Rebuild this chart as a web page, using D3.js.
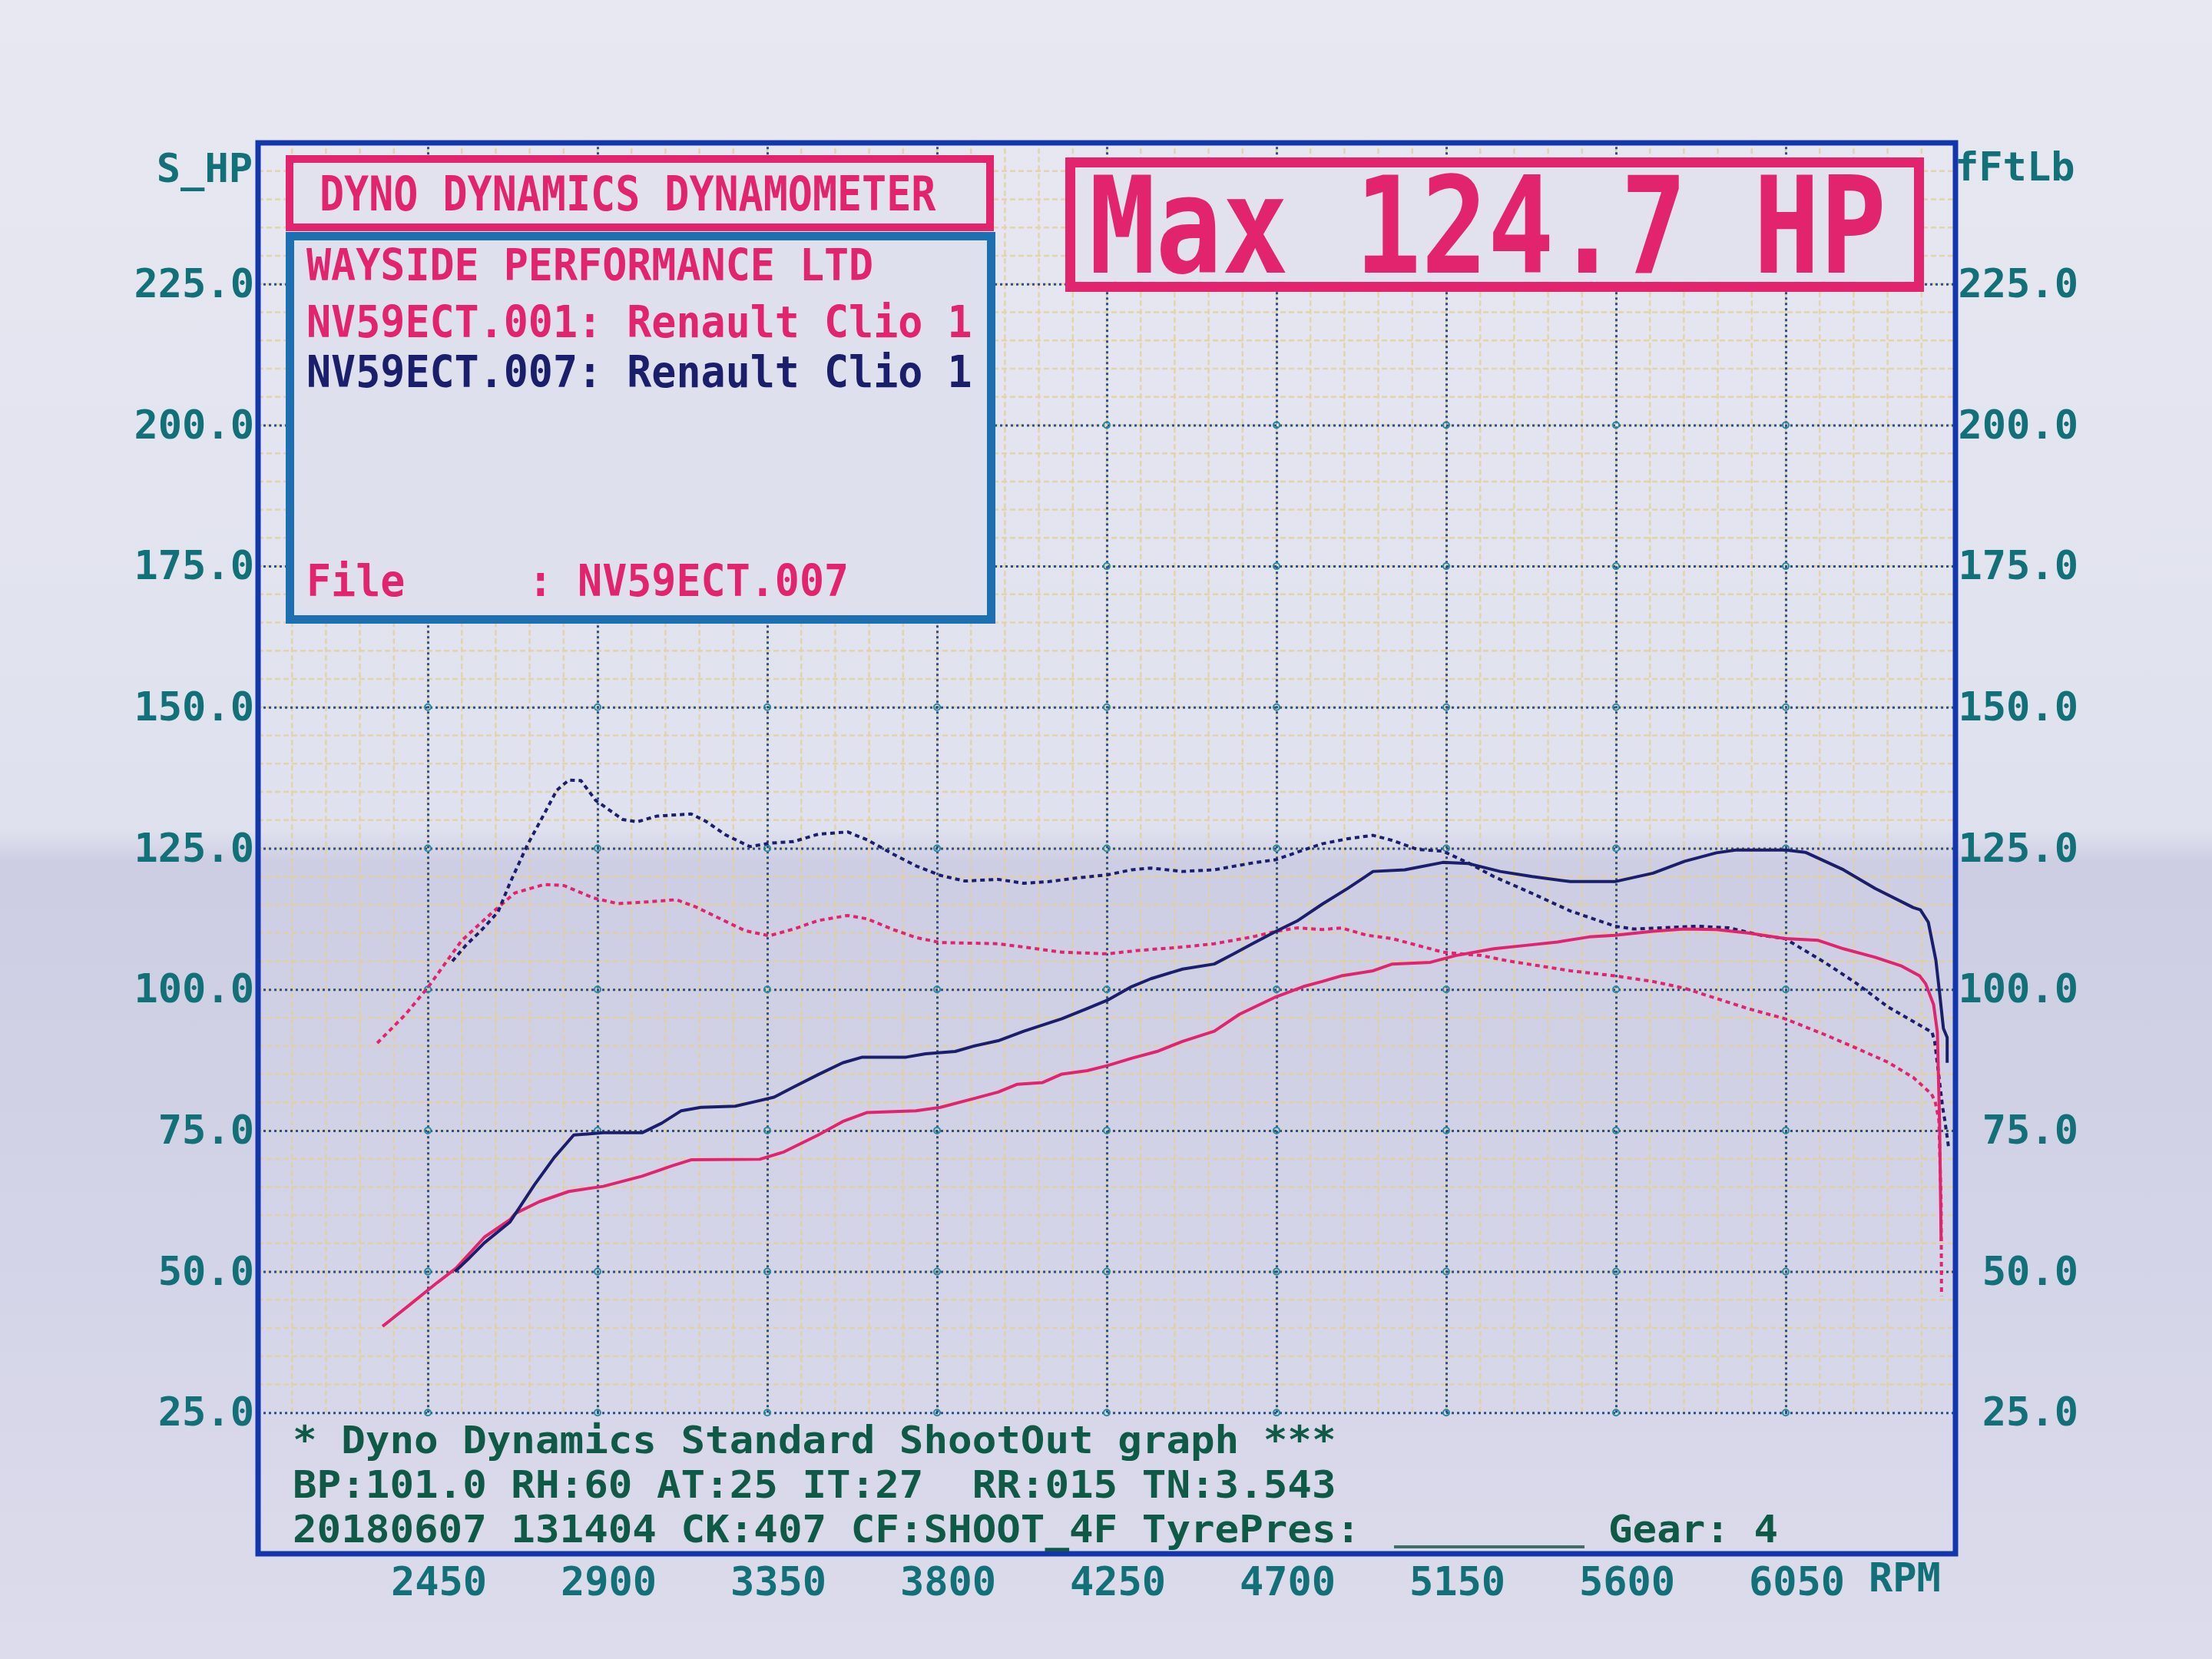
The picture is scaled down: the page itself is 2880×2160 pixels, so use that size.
<!DOCTYPE html>
<html>
<head>
<meta charset="utf-8">
<script src="https://cdn.jsdelivr.net/npm/d3@7"></script>
<style>
  html, body { margin: 0; padding: 0; background: #dfe0ed; }
  svg { display: block; }
  text { font-family: "DejaVu Sans Mono", "Liberation Mono", monospace; }
</style>
</head>
<body>
<div id="chart"></div>
<script>
// tick values for both axes
const rpmTicks = [2450, 2900, 3350, 3800, 4250, 4700, 5150, 5600, 6050];
const valueTicks = [25, 50, 75, 100, 125, 150, 175, 200, 225];

// run .001 (pink) - power, solid line  [rpm, S_HP]
const pinkPower = [
  [2330, 40.3], [2400, 44], [2474, 48], [2525, 50.6], [2600, 56.1], [2668, 59.2], [2682, 60.3], [2746, 62.4],
  [2824, 64.2], [2915, 65.1], [3018, 66.9], [3096, 68.7], [3148, 69.8], [3330, 69.9], [3394, 71.2],
  [3485, 74.2], [3550, 76.6], [3615, 78.2], [3744, 78.5], [3809, 79.1], [3962, 81.8], [4013, 83.2],
  [4080, 83.5], [4131, 85.0], [4198, 85.6], [4252, 86.5], [4316, 87.8], [4383, 89.0], [4451, 90.8],
  [4535, 92.6], [4602, 95.6], [4699, 98.7], [4771, 100.5], [4821, 101.4], [4872, 102.4], [4956, 103.3],
  [5007, 104.5], [5108, 104.8], [5175, 106.0], [5276, 107.2], [5361, 107.8], [5445, 108.4],
  [5529, 109.3], [5597, 109.6], [5698, 110.3], [5782, 110.7], [5866, 110.6], [5950, 110.0],
  [6048, 109.0], [6136, 108.7], [6203, 107.2], [6287, 105.7], [6355, 104.2], [6405, 102.4],
  [6421, 101], [6442, 97.3], [6452, 92.4], [6458, 76], [6462, 55.4]
];

// run .001 (pink) - torque, dotted line  [rpm, fFtLb]
const pinkTorque = [
  [2316, 90.5], [2390, 95.5], [2452, 100.5], [2539, 108.6], [2617, 113.4], [2681, 117.1], [2759, 118.6],
  [2811, 118.4], [2889, 116.2], [2954, 115.2], [3031, 115.5], [3109, 115.9], [3161, 114.6], [3226, 112.5],
  [3291, 110.4], [3355, 109.5], [3420, 110.7], [3485, 112.2], [3563, 113.1], [3615, 112.5], [3680, 110.7],
  [3744, 109.2], [3809, 108.3], [3962, 108.1], [4030, 107.5], [4131, 106.6], [4252, 106.3], [4333, 106.9],
  [4451, 107.5], [4535, 108.1], [4636, 109.3], [4699, 110.3], [4754, 110.9], [4821, 110.6], [4872, 110.9],
  [4939, 109.6], [5007, 109.0], [5074, 107.8], [5141, 106.6], [5243, 106.0], [5310, 105.1], [5394, 104.2],
  [5479, 103.3], [5597, 102.4], [5698, 101.4], [5782, 100.2], [5866, 98.4], [5950, 96.6], [6048, 94.8],
  [6153, 92.0], [6237, 89.6], [6321, 87.1], [6388, 84.4], [6436, 81.5], [6446, 80.2], [6456, 76.8],
  [6462, 62], [6463, 45.7]
];

// run .007 (navy) - power, solid line
const navyPower = [
  [2522, 50], [2560, 52.4], [2600, 55.1], [2668, 58.8], [2733, 65.4], [2785, 70.2], [2837, 74.2],
  [2915, 74.6], [3018, 74.6], [3070, 76.3], [3122, 78.5], [3174, 79.1], [3265, 79.3], [3317, 80.1],
  [3368, 80.9], [3420, 82.7], [3485, 84.9], [3550, 87.0], [3602, 88.0], [3718, 88.0], [3770, 88.6],
  [3848, 89.0], [3900, 90.0], [3962, 90.9], [4030, 92.6], [4131, 94.8], [4198, 96.6], [4252, 98.1],
  [4316, 100.5], [4367, 101.9], [4451, 103.6], [4535, 104.5], [4586, 106.3], [4636, 108.1], [4699, 110.3],
  [4754, 112.1], [4821, 115.1], [4889, 117.9], [4956, 120.9], [5040, 121.2], [5141, 122.5], [5209, 122.3],
  [5293, 120.9], [5378, 120.0], [5479, 119.1], [5597, 119.1], [5698, 120.6], [5782, 122.7], [5866, 124.2],
  [5917, 124.7], [6051, 124.7], [6102, 124.3], [6203, 121.2], [6287, 117.9], [6388, 114.5], [6407, 114.1],
  [6428, 111.9], [6448, 105.2], [6458, 99.3], [6468, 93.1], [6478, 91.5], [6478, 87]
];

// run .007 (navy) - torque, dotted line
const navyTorque = [
  [2515, 105], [2552, 107.9], [2591, 110.4], [2636, 113.7], [2668, 118.9], [2714, 125.6],
  [2753, 130.4], [2792, 135.3], [2824, 137.1], [2856, 137.0], [2895, 133.5], [2967, 130.1], [3005, 129.7],
  [3057, 130.7], [3148, 131.1], [3187, 129.8], [3239, 127.4], [3304, 125.3], [3355, 125.9], [3420, 126.2],
  [3485, 127.5], [3563, 127.9], [3615, 126.5], [3680, 124.1], [3744, 121.9], [3809, 120.2], [3874, 119.2],
  [3962, 119.5], [4030, 118.8], [4097, 119.1], [4164, 119.7], [4252, 120.3], [4316, 121.2], [4367, 121.5],
  [4451, 120.9], [4535, 121.2], [4636, 122.4], [4699, 123.0], [4754, 124.3], [4821, 125.8], [4889, 126.7],
  [4956, 127.3], [5007, 126.4], [5074, 124.8], [5141, 124.5], [5209, 122.4], [5276, 120.0], [5378, 117.0],
  [5479, 113.9], [5597, 111.2], [5647, 110.7], [5816, 111.2], [5900, 110.9], [5984, 109.6], [6048, 109.0],
  [6153, 104.8], [6237, 101.1], [6321, 96.9], [6438, 92.4], [6445, 90.7], [6455, 85.2], [6466, 79.1],
  [6472, 76.7], [6482, 71.9]
];

const infoLines = [
  { text: "WAYSIDE PERFORMANCE LTD", color: "pink" },
  { text: "NV59ECT.001: Renault Clio 1", color: "pink" },
  { text: "NV59ECT.007: Renault Clio 1", color: "navy" }
];
const fileLine = "File     : NV59ECT.007";
const footerLines = [
  "* Dyno Dynamics Standard ShootOut graph ***",
  "BP:101.0 RH:60 AT:25 IT:27  RR:015 TN:3.543",
  "20180607 131404 CK:407 CF:SHOOT_4F TyrePres:"
];

const colors = {
  pink: "#e2236d",
  navy: "#1b1f6b",
  frame: "#1436ad",
  infoBorder: "#1c6fb0",
  axisText: "#127078",
  footText: "#0e5a47",
  grid: "#2b4f88",
  minor: "#e4d09a"
};

const width = 2880, height = 2160;
const plot = { left: 336, right: 2546, top: 186, bottom: 2023 };

const svg = d3.select("#chart").append("svg")
  .attr("width", width)
  .attr("height", height);

// paper background with the fold shadow
const grad = svg.append("defs").append("linearGradient")
  .attr("id", "paper").attr("x1", 0).attr("y1", 0).attr("x2", 0).attr("y2", 1);
[["0%", "#e7e8f1"], ["50%", "#dfe1ee"], ["52%", "#cdcde3"], ["75%", "#d4d4e8"], ["100%", "#dcdcec"]]
  .forEach(([o, c]) => grad.append("stop").attr("offset", o).attr("stop-color", c));
svg.append("rect").attr("width", width).attr("height", height).attr("fill", "url(#paper)");

const x = d3.scaleLinear().domain([2000, 6500]).range([plot.left, plot.right]);
const y = d3.scaleLinear().domain([0, 250]).range([plot.bottom, plot.top]);

// minor grid (every 90 rpm / 5 units), only above the footer area
const minor = svg.append("g")
  .attr("stroke", colors.minor).attr("stroke-width", 2.5)
  .attr("stroke-dasharray", "7,4").attr("opacity", 0.8);
minor.selectAll(".mv").data(d3.range(2090, 6500, 90)).join("line")
  .attr("x1", d => x(d)).attr("x2", d => x(d))
  .attr("y1", y(25)).attr("y2", y(250));
minor.selectAll(".mh").data(d3.range(30, 250, 5)).join("line")
  .attr("x1", x(2000)).attr("x2", x(6500))
  .attr("y1", d => y(d)).attr("y2", d => y(d));

// major dotted grid
const gridX = svg.append("g")
  .attr("transform", `translate(0,${y(25)})`)
  .call(d3.axisBottom(x).tickValues(rpmTicks).tickSize(-(y(25) - y(250))).tickFormat(""));
const gridY = svg.append("g")
  .attr("transform", `translate(${plot.left},0)`)
  .call(d3.axisLeft(y).tickValues(valueTicks).tickSize(-(plot.right - plot.left)).tickFormat(""));
[gridX, gridY].forEach(g => {
  g.select(".domain").remove();
  g.selectAll("line")
    .attr("stroke", colors.grid).attr("stroke-width", 3)
    .attr("stroke-dasharray", "3,4");
});

// little circles on the major grid crossings
svg.append("g").selectAll("circle")
  .data(d3.cross(rpmTicks, valueTicks))
  .join("circle")
  .attr("cx", d => x(d[0])).attr("cy", d => y(d[1]))
  .attr("r", 4).attr("fill", "none")
  .attr("stroke", "#2a8a9c").attr("stroke-width", 2);

// curves
const line = d3.line().x(d => x(d[0])).y(d => y(d[1]));
const series = [
  { data: pinkTorque, color: colors.pink, dash: "6,5" },
  { data: navyTorque, color: colors.navy, dash: "6,5" },
  { data: pinkPower, color: colors.pink, dash: null },
  { data: navyPower, color: colors.navy, dash: null }
];
svg.append("g").selectAll("path")
  .data(series)
  .join("path")
  .attr("fill", "none")
  .attr("stroke", d => d.color)
  .attr("stroke-width", 4)
  .attr("stroke-dasharray", d => d.dash)
  .attr("stroke-linejoin", "round")
  .attr("d", d => line(d.data));

// printer text: the cell width sets the font size, the cap height sets a vertical stretch
function label(g, str, px, py, charW, capH, fill) {
  const size = charW / 0.602;
  const sy = capH / (size * 0.729);
  return g.append("text")
    .attr("transform", `translate(${px},${py}) scale(1,${sy.toFixed(3)})`)
    .attr("font-size", size.toFixed(2))
    .attr("font-weight", "bold")
    .attr("fill", fill)
    .attr("xml:space", "preserve")
    .text(str);
}

const boxes = svg.append("g");

// title box
boxes.append("rect")
  .attr("x", 377).attr("y", 207).attr("width", 912).attr("height", 89)
  .attr("fill", "#e1e2ee").attr("stroke", colors.pink).attr("stroke-width", 10);
label(boxes, "DYNO DYNAMICS DYNAMOMETER", 416, 274, 32.1, 46, colors.pink);

// info box
boxes.append("rect")
  .attr("x", 377.5).attr("y", 307.5).attr("width", 913).attr("height", 499)
  .attr("fill", "#dfe0ed").attr("stroke", colors.infoBorder).attr("stroke-width", 11);
infoLines.forEach((l, i) => {
  label(boxes, l.text, 399, [365, 439, 504][i], 32.1, 42, colors[l.color]);
});
label(boxes, fileLine, 399, 776, 32.1, 42, colors.pink);

// max box
boxes.append("rect")
  .attr("x", 1393.5).attr("y", 211.5).attr("width", 1105).attr("height", 162)
  .attr("fill", "#e1e2ee").attr("stroke", colors.pink).attr("stroke-width", 13);
label(boxes, "Max 124.7 HP", 1418, 355, 86.5, 128, colors.pink);

// frame
svg.append("rect")
  .attr("x", plot.left).attr("y", plot.top)
  .attr("width", plot.right - plot.left).attr("height", plot.bottom - plot.top)
  .attr("fill", "none").attr("stroke", colors.frame).attr("stroke-width", 7);

// axes labels
const fontFam = '"DejaVu Sans Mono", "Liberation Mono", monospace';
function styleAxis(g) {
  g.select(".domain").remove();
  g.selectAll("line").remove();
  g.attr("font-family", fontFam).attr("font-size", 52).attr("font-weight", "bold");
  g.selectAll("text").attr("fill", colors.axisText);
}

svg.append("g")
  .attr("transform", `translate(${plot.left},0)`)
  .call(d3.axisLeft(y).tickValues(valueTicks).tickFormat(d3.format(".1f")).tickSize(0).tickPadding(5))
  .call(styleAxis);

svg.append("g")
  .attr("transform", `translate(${plot.right},0)`)
  .call(d3.axisRight(y).tickValues(valueTicks).tickFormat(d3.format(".1f")).tickSize(0))
  .call(styleAxis)
  .selectAll("text").attr("x", 160).attr("text-anchor", "end");

svg.append("g")
  .attr("transform", `translate(0,${plot.bottom})`)
  .call(d3.axisBottom(x).tickValues(rpmTicks).tickFormat(d3.format("d")).tickSize(0).tickPadding(17))
  .call(styleAxis)
  .selectAll("text").attr("dx", 14);

svg.append("text").attr("x", 329).attr("y", 237).attr("text-anchor", "end")
  .attr("font-size", 52).attr("font-weight", "bold").attr("fill", colors.axisText).text("S_HP");
svg.append("text").attr("x", 2545).attr("y", 235)
  .attr("font-size", 52).attr("font-weight", "bold").attr("fill", colors.axisText).text("fFtLb");
svg.append("text").attr("x", 2433).attr("y", 2072)
  .attr("font-size", 52).attr("font-weight", "bold").attr("fill", colors.axisText).text("RPM");

// footer block
const foot = svg.append("g");
footerLines.forEach((t, i) => {
  label(foot, t, 381, [1892, 1950, 2008][i], 31.6, 36, colors.footText);
});
foot.append("line")
  .attr("x1", 1815).attr("x2", 2063).attr("y1", 2014).attr("y2", 2014)
  .attr("stroke", "#3d6f68").attr("stroke-width", 4);
label(foot, "Gear: 4", 2094, 2008, 31.6, 36, colors.footText);
</script>
</body>
</html>
